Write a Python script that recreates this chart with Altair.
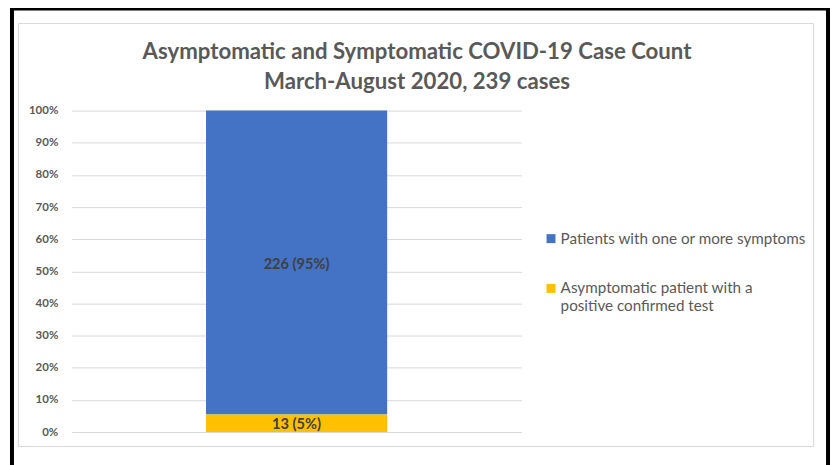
import altair as alt
import pandas as pd

categories = ["Patients with one or more symptoms",
              "Asymptomatic patient with a\npositive confirmed test"]
counts = [226, 13]
labels = ["226 (95%)", "13 (5%)"]
stack_order = [2, 1]
colors = ["#4472c4", "#ffc000"]
title_lines = ["Asymptomatic and Symptomatic COVID-19 Case Count",
               "March-August 2020, 239 cases"]
y_ticks = [0, 0.1, 0.2, 0.3, 0.4, 0.5, 0.6, 0.7, 0.8, 0.9, 1.0]

df = pd.DataFrame({"cat": categories, "count": counts, "label": labels,
                   "order": stack_order, "group": ["All cases"] * 2})

FONT = "Lato"
W, H = 452, 323

y_axis = alt.Axis(values=y_ticks, tickCount=11, format=".0%", title=None,
                  domain=False, ticks=False, labelPadding=14, labelFont=FONT,
                  labelFontSize=11.5, labelFontWeight="bold",
                  labelColor="#595959", gridColor="#d9d9d9", labelOverlap=False)
y_scale = alt.Scale(domain=[0, 1])

base = alt.Chart(df).transform_stack(
    stack="count", groupby=["group"], as_=["y0", "y1"],
    offset="normalize", sort=[alt.SortField("order", order="ascending")]
).transform_calculate(mid="(datum.y0 + datum.y1) / 2")

bars = base.mark_bar(size=182).encode(
    x=alt.X("group:N", axis=None),
    y=alt.Y("y0:Q", scale=y_scale, axis=y_axis),
    y2="y1:Q",
    color=alt.Color("cat:N", scale=alt.Scale(domain=categories, range=colors),
                    legend=alt.Legend(title=None, orient="none", legendX=474, legendY=121,
                                      symbolType="square", symbolSize=81,
                                      symbolStrokeWidth=0, labelFont=FONT,
                                      labelFontSize=15.3, labelColor="#595959",
                                      labelOffset=2, rowPadding=34, labelLimit=400,
                                      labelExpr="split(datum.label, '\\n')")),
)

text = base.mark_text(font=FONT, fontSize=14.7, fontWeight="bold", color="#404040",
                      dy=2).encode(
    x=alt.X("group:N", axis=None),
    y=alt.Y("mid:Q", scale=y_scale, axis=y_axis),
    text="label:N",
)

border_df = pd.DataFrame({"k": [0]})
inner = alt.Chart(border_df).mark_rect(fill=None, stroke="#d9d9d9", strokeWidth=1).encode(
    x=alt.value(-53.5), x2=alt.value(745.5), y=alt.value(-87.5), y2=alt.value(337.5))
outer = alt.Chart(border_df).mark_rect(fill=None, stroke="black", strokeWidth=4).encode(
    x=alt.value(-60), x2=alt.value(760), y=alt.value(-102.5), y2=alt.value(400))

chart = alt.layer(inner, outer, bars, text).properties(
    width=W, height=H,
    background="white",
    autosize=alt.AutoSizeParams(type="none"),
    padding={"left": 64, "top": 102, "right": 310, "bottom": 32},
    title=alt.TitleParams(text=title_lines, font=FONT, fontSize=22.3, fontWeight="bold",
                          color="#595959", lineHeight=30, anchor="middle", dx=121,
                          offset=-87),
).configure_view(stroke=None)

chart.save("out.html", embed_options={"renderer": "svg", "actions": False})
